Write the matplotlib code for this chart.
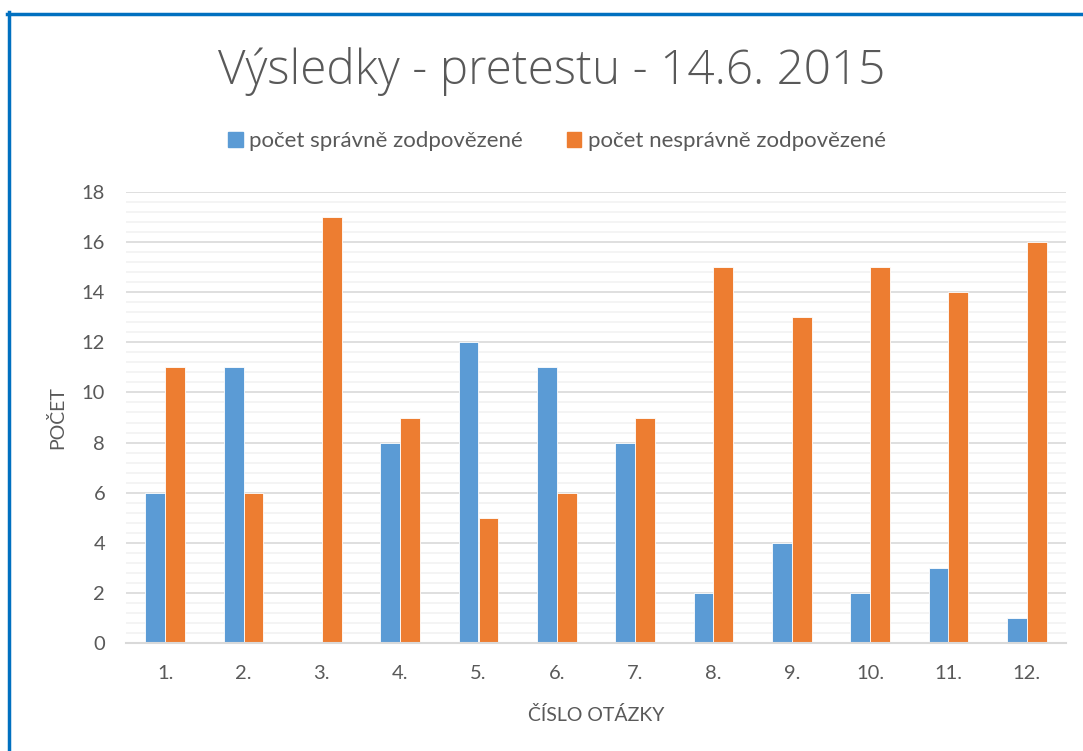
import matplotlib
matplotlib.use("Agg")
import matplotlib.pyplot as plt
from matplotlib.lines import Line2D
from matplotlib.patches import Patch
import numpy as np

categories = ["1.", "2.", "3.", "4.", "5.", "6.", "7.", "8.", "9.", "10.", "11.", "12."]
correct = [6, 11, 0, 8, 12, 11, 8, 2, 4, 2, 3, 1]
incorrect = [11, 6, 17, 9, 5, 6, 9, 15, 13, 15, 14, 16]
series_names = ["počet správně zodpovězené", "počet nesprávně zodpovězené"]
title = "Výsledky - pretestu - 14.6. 2015"
ylabel = "POČET"
xlabel = "ČÍSLO OTÁZKY"

W, H = 1083, 751
fig = plt.figure(figsize=(W / 100, H / 100), dpi=100)
FONT = ["Lato", "DejaVu Sans"]
TXT = "#595959"

# blue frame (top and left)
fig.add_artist(Line2D([8.5 / W, 8.5 / W], [0, 1 - 12 / H], color="#0070C0", lw=2.5, transform=fig.transFigure))
fig.add_artist(Line2D([7 / W, 1], [1 - 13.5 / H, 1 - 13.5 / H], color="#0070C0", lw=2.5, transform=fig.transFigure))

x0, x1 = 126, 1066
y_top, y_bot = 192, 643
ax = fig.add_axes([x0 / W, 1 - y_bot / H, (x1 - x0) / W, (y_bot - y_top) / H])

x = np.arange(len(categories))
bw = 0.255
ax.bar(x - bw / 2, correct, bw, color="#5B9BD5", edgecolor="white", linewidth=0.6, zorder=3)
ax.bar(x + bw / 2, incorrect, bw, color="#ED7D31", edgecolor="white", linewidth=0.6, zorder=3)

ax.set_xlim(-0.5, len(categories) - 0.5)
ax.set_ylim(0, 18)
ax.set_yticks(np.arange(0, 19, 2))
ax.set_yticks(np.arange(0, 18.01, 0.4), minor=True)
ax.grid(True, which="major", axis="y", color="#D9D9D9", lw=1.2, zorder=1)
ax.grid(True, which="minor", axis="y", color="#F2F2F2", lw=1.2, zorder=0)
ax.set_xticks(x)
ax.set_xticklabels(categories)
for s in ["top", "right", "left"]:
    ax.spines[s].set_visible(False)
ax.spines["bottom"].set_color("#D9D9D9")
ax.spines["bottom"].set_linewidth(1.5)
ax.spines["bottom"].set_zorder(4)
ax.tick_params(axis="both", which="both", length=0, labelsize=14.5, labelcolor=TXT)
ax.tick_params(axis="x", pad=16)
ax.tick_params(axis="y", pad=15)
for lab in ax.get_xticklabels() + ax.get_yticklabels():
    lab.set_family(FONT)

fig.text(596 / W, 1 - 715 / H, xlabel, ha="center", va="center", fontsize=14, color=TXT, family=FONT)
fig.text(57 / W, 1 - 418 / H, ylabel, ha="center", va="center", rotation=90, fontsize=14, color=TXT, family=FONT)
fig.text(552 / W, 1 - 71 / H, title, ha="center", va="center", fontsize=34.3, color="#595959",
         family=["Open Sans", "DejaVu Sans"], fontweight="light")

handles = [Patch(color="#5B9BD5"), Patch(color="#ED7D31")]
leg = fig.legend(handles, series_names, loc="center", bbox_to_anchor=(557 / W, 1 - 141 / H), ncol=2,
                 frameon=False, handlelength=0.65, handleheight=0.65, handletextpad=0.3, columnspacing=1.95,
                 prop={"family": FONT, "size": 16})
for t in leg.get_texts():
    t.set_color(TXT)

fig.savefig("out.png", dpi=100)
